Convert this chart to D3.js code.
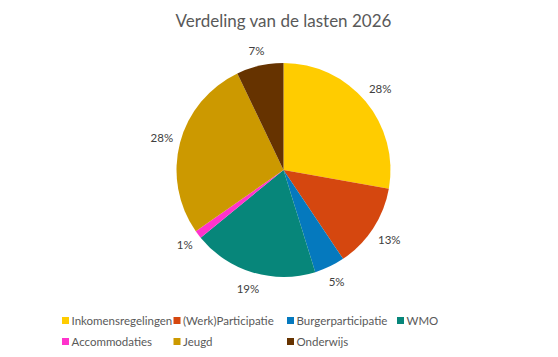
<!DOCTYPE html>
<html><head><meta charset="utf-8">
<script src="https://cdn.jsdelivr.net/npm/d3@7"></script>
<style>html,body{margin:0;padding:0;background:#fff;}svg{display:block;font-family:Lato,"Open Sans",sans-serif;}</style>
</head><body>
<svg id="c" width="558" height="357"></svg>
<script>
const title = "Verdeling van de lasten 2026";
const categories = ["Inkomensregelingen","(Werk)Participatie","Burgerparticipatie","WMO","Accommodaties","Jeugd","Onderwijs"];
const values = [27.8, 12.8, 4.6, 18.9, 1.2, 27.6, 7.1];
const colors = ["#FFCC00","#D5470F","#0579BE","#07867A","#FF33CC","#CC9900","#663300"];

const svg = d3.select("#c");
const cx = 283.5, cy = 170, r = 107;

svg.append("text").attr("x", 283.5).attr("y", 26.5).attr("text-anchor","middle")
  .attr("fill","#595959").attr("font-size", 17).text(title);

const data = categories.map((c,i)=>({name:c, value:values[i], color:colors[i]}));
const total = d3.sum(values);
const pie = d3.pie().value(d=>d.value).sort(null);
const arcs = pie(data);
const arc = d3.arc().innerRadius(0).outerRadius(r);
const g = svg.append("g").attr("transform",`translate(${cx},${cy})`);
g.selectAll("path").data(arcs).join("path").attr("d",arc).attr("fill",d=>d.data.color);

const fmt = d => Math.round(d.data.value/total*100) + "%";
g.selectAll("text.lbl").data(arcs).join("text").attr("class","lbl")
  .attr("font-size", 11.5).attr("fill","#404040")
  .attr("text-anchor","middle").attr("dominant-baseline","central")
  .each(function(d){
    const a = (d.startAngle + d.endAngle)/2;
    const dx = Math.sin(a), dy = -Math.cos(a);
    const t = fmt(d);
    const w = t.length * 6.4, h = 12;
    const rr = r + 8 + Math.abs(dx)*w/2 + Math.abs(dy)*h/2;
    d3.select(this).attr("x", dx*rr).attr("y", dy*rr).text(t);
  });

const colX = [62, 173.5, 287, 397];
const rowY = [320.5, 341.5];
const lg = svg.append("g");
data.forEach((d,i)=>{
  const col = i % 4, row = Math.floor(i/4);
  const x = colX[col], y = rowY[row];
  lg.append("rect").attr("x", x).attr("y", y-3.5).attr("width",7).attr("height",7).attr("fill", d.color);
  lg.append("text").attr("x", x+9.5).attr("y", y).attr("dominant-baseline","central")
    .attr("font-size", 11.5).attr("fill","#595959").text(d.name);
});
</script>
</body></html>
